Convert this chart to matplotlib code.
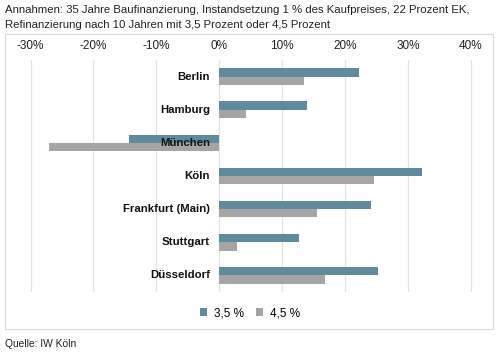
import numpy as np
import matplotlib.pyplot as plt
from matplotlib.patches import Rectangle

cities = ['Berlin', 'Hamburg', 'München', 'Köln', 'Frankfurt (Main)', 'Stuttgart', 'Düsseldorf']
rate_35 = [22.2, 13.9, -14.3, 32.2, 24.1, 12.6, 25.2]
rate_45 = [13.5, 4.2, -27.0, 24.6, 15.6, 2.8, 16.8]
series_labels = ['3,5 %', '4,5 %']
xticks = [-30, -20, -10, 0, 10, 20, 30, 40]

c_35 = '#608b9c'
c_45 = '#a5a5a5'

plt.rcParams['font.family'] = ['Liberation Sans', 'DejaVu Sans']

fig = plt.figure(figsize=(5, 3.55), dpi=100)

# outer frame around the chart
fig.patches.append(Rectangle((5 / 500, 1 - 329 / 355), 488 / 500, (329 - 34) / 355,
                             transform=fig.transFigure, fill=False,
                             edgecolor='#d9d9d9', linewidth=0.8))

ax = fig.add_axes([11.7 / 500, 1 - 292 / 355, 478.1 / 500, 232 / 355])

y = np.arange(len(cities))
h = 0.25
ax.barh(y - h / 2, rate_35, height=h, color=c_35, label=series_labels[0], zorder=2)
ax.barh(y + h / 2, rate_45, height=h, color=c_45, label=series_labels[1], zorder=2)

ax.set_xlim(-33, 43)
ax.set_ylim(len(cities) - 0.5, -0.5)
ax.set_xticks(xticks)
ax.set_xticklabels([f'{t}%' for t in xticks], fontsize=8.5, color='#222222')
ax.xaxis.tick_top()
ax.tick_params(axis='x', length=0, pad=5.5)
ax.set_yticks([])
ax.grid(axis='x', color='#e3e3e3', linewidth=0.9, zorder=0)
for s in ax.spines.values():
    s.set_visible(False)

for i, c in enumerate(cities):
    ax.text(-1.5, i, c, ha='right', va='center', fontsize=8.2, fontweight='bold',
            color='#111111', zorder=3)

fig.legend(loc='center', bbox_to_anchor=(0.5, 1 - 313 / 355), ncol=2, frameon=False,
           fontsize=8.5, handlelength=0.6, handleheight=0.6, handletextpad=0.6,
           columnspacing=1.0)

fig.text(5 / 500, 1 - 10 / 355,
         'Annahmen: 35 Jahre Baufinanzierung, Instandsetzung 1 % des Kaufpreises, 22 Prozent EK,',
         fontsize=8.2, va='center', color='#222222')
fig.text(5 / 500, 1 - 25 / 355,
         'Refinanzierung nach 10 Jahren mit 3,5 Prozent oder 4,5 Prozent',
         fontsize=8.2, va='center', color='#222222')
fig.text(5 / 500, 1 - 344 / 355, 'Quelle: IW Köln', fontsize=7.4, va='center', color='#222222')

fig.savefig('out.png', dpi=100)
